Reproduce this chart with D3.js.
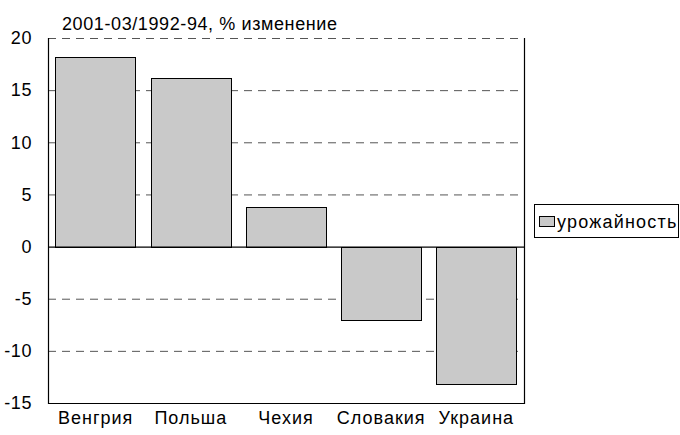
<!DOCTYPE html>
<html lang="ru">
<head>
<meta charset="UTF-8">
<title>урожайность</title>
<style>
	body { margin: 0; background: #fff; }
	svg { font-family: "Liberation Sans", Arial, sans-serif; letter-spacing: 0.6px; }
	.tick-lbl { font-size: 18px; fill: #000; }
	.x-lbl { letter-spacing: 1px; }
	.grid line { stroke: #555; stroke-dasharray: 8,6; stroke-width: 1; }
</style>
<script src="https://cdnjs.cloudflare.com/ajax/libs/d3/7.8.5/d3.min.js"></script>
</head>
<body>
<script>
	// data
	var countries = ["Венгрия", "Польша", "Чехия", "Словакия", "Украина"];
	var yieldChange = [18.2, 16.2, 3.8, -7.0, -13.1];
	var yTicks = [-15, -10, -5, 0, 5, 10, 15, 20];
	var title = "2001-03/1992-94, % изменение";
	var seriesName = "урожайность";

	const w = 680, h = 435;
	const pLeft = 48, pRight = 524, pTop = 38, pBottom = 403;

	const svg = d3.select("body").append("svg")
		.attr("width", w).attr("height", h);

	var x = d3.scaleBand().domain(countries).range([pLeft, pRight])
		.paddingInner(0.155).paddingOuter(0.078);
	var y = d3.scaleLinear().domain([-15, 20]).range([pBottom, pTop]);

	// dashed gridlines (not at 0 and -15)
	svg.append("g").attr("class", "grid")
		.selectAll("line")
		.data(yTicks.filter(d => d !== 0 && d !== -15)).enter()
		.append("line")
		.attr("x1", pLeft).attr("x2", pRight)
		.attr("y1", d => y(d) + 0.5).attr("y2", d => y(d) + 0.5);

	// bars
	svg.append("g").selectAll("rect")
		.data(yieldChange).enter()
		.append("rect")
		.attr("x", (d, i) => Math.round(x(countries[i])) + 0.5)
		.attr("width", Math.round(x.bandwidth()))
		.attr("y", d => Math.round(y(Math.max(0, d))) + 0.5)
		.attr("height", d => Math.round(Math.abs(y(d) - y(0))))
		.attr("fill", "#c9c9c9")
		.attr("stroke", "#000")
		.attr("stroke-width", 1);

	// frame: left, right, bottom solid; zero line
	var frame = svg.append("g").attr("stroke", "#000").attr("stroke-width", 1.2);
	frame.append("line").attr("x1", pLeft + 0.5).attr("x2", pLeft + 0.5).attr("y1", pTop).attr("y2", pBottom + 1);
	frame.append("line").attr("x1", pRight + 0.5).attr("x2", pRight + 0.5).attr("y1", pTop).attr("y2", pBottom + 1);
	frame.append("line").attr("x1", pLeft).attr("x2", pRight + 1).attr("y1", pBottom + 0.5).attr("y2", pBottom + 0.5);
	frame.append("line").attr("x1", pLeft).attr("x2", pRight + 1).attr("y1", y(0) + 0.5).attr("y2", y(0) + 0.5);

	// y axis labels (plain hyphen for negatives)
	var yAxis = d3.axisLeft(y).tickValues(yTicks).tickSize(0).tickPadding(16)
		.tickFormat(d => String(d));
	var ya = svg.append("g").attr("transform", "translate(" + pLeft + ",0)").call(yAxis);
	ya.select(".domain").remove();
	ya.attr("font-size", null).attr("font-family", null);
	ya.selectAll("text").attr("class", "tick-lbl");

	// x labels
	var xAxis = d3.axisBottom(x).tickSize(0).tickPadding(8);
	var xa = svg.append("g").attr("transform", "translate(0," + pBottom + ")").call(xAxis);
	xa.select(".domain").remove();
	xa.attr("font-size", null).attr("font-family", null);
	xa.selectAll("text").attr("class", "tick-lbl x-lbl")
		.attr("dy", "0.71em");

	// title
	svg.append("text")
		.attr("x", 62).attr("y", 30)
		.attr("font-size", "18px")
		.text(title);

	// legend
	var lg = svg.append("g");
	lg.append("rect").attr("x", 534.5).attr("y", 204.5).attr("width", 144).attr("height", 33)
		.attr("fill", "#fff").attr("stroke", "#000");
	lg.append("rect").attr("x", 539.5).attr("y", 216.5).attr("width", 15).attr("height", 10)
		.attr("fill", "#c9c9c9").attr("stroke", "#000");
	lg.append("text").attr("x", 557).attr("y", 228).attr("font-size", "18px")
		.attr("letter-spacing", "1.2px").text(seriesName);
</script>
</body>
</html>
